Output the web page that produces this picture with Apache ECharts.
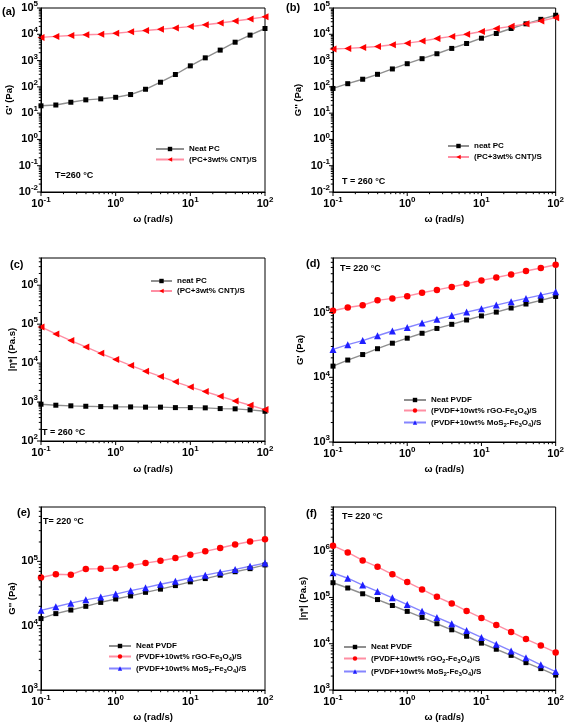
<!DOCTYPE html>
<html><head><meta charset="utf-8">
<script src="https://cdn.jsdelivr.net/npm/echarts@6/dist/echarts.min.js"></script>
<style>html,body{margin:0;padding:0;background:#fff}#c{width:567px;height:728px}</style>
</head><body><div id="c"></div>
<script>
// ---- data ----
const omega = [0.1, 0.158, 0.251, 0.398, 0.631, 1, 1.585, 2.512, 3.981, 6.31, 10, 15.85, 25.12, 39.81, 63.1, 100];
const aNeat = [19, 20.4, 26, 32, 35, 40, 51, 81, 150, 295, 630, 1270, 2500, 5000, 9300, 16600];
const aCNT = [7600, 8300, 9000, 9600, 10000, 11000, 12400, 14000, 15600, 17500, 19600, 23000, 27000, 32000, 38000, 46000];
const bNeat = [87, 132, 195, 300, 480, 760, 1180, 1820, 2900, 4470, 7100, 10700, 16600, 25000, 37000, 53000];
const bCNT = [2750, 2900, 3150, 3450, 4000, 4600, 5500, 6900, 8300, 10000, 12800, 16600, 20000, 25000, 32000, 43000];
const cNeat = [880, 830, 800, 780, 765, 750, 750, 740, 740, 720, 720, 710, 680, 670, 630, 580];
const cCNT = [85000, 56000, 38000, 26000, 17800, 12400, 8700, 6200, 4550, 3300, 2450, 1860, 1410, 1070, 830, 640];
const dNeat = [14900, 18500, 22500, 27700, 33700, 40300, 48000, 57000, 66000, 77000, 89000, 102000, 118000, 136000, 155000, 178000];
const dRGO = [107000, 120000, 130000, 155000, 166000, 180000, 203000, 225000, 250000, 280000, 315000, 350000, 390000, 440000, 490000, 550000];
const dMoS2 = [27000, 32000, 37000, 44000, 52000, 59000, 69000, 79000, 90000, 102000, 115000, 131000, 148000, 166000, 187000, 210000];
const eNeat = [12900, 15400, 17500, 20000, 23000, 26000, 29000, 33000, 37000, 42000, 48000, 54000, 61000, 69000, 77000, 88000];
const eRGO = [56000, 63000, 62000, 76000, 77000, 79000, 86000, 94000, 102000, 113000, 127000, 143000, 161000, 183000, 204000, 220000];
const eMoS2 = [17300, 19700, 22400, 25200, 27800, 31000, 35000, 39000, 44000, 49000, 55000, 61000, 68000, 75000, 84000, 94000];
const fNeat = [208000, 160000, 120000, 90000, 67000, 50000, 37000, 27000, 20000, 14500, 10300, 7600, 5600, 3900, 2900, 2100];
const fRGO = [1310000, 940000, 630000, 460000, 316000, 215000, 149000, 103000, 74000, 51000, 36000, 25500, 18000, 12600, 9100, 6500];
const fMoS2 = [340000, 260000, 185000, 135000, 98000, 70000, 50000, 37000, 27000, 19200, 13700, 9800, 7000, 5000, 3500, 2500];

// tick values
const xMajor = [0.1, 1, 10, 100];
const yMajorAB = [0.01, 0.1, 1, 10, 100, 1000, 10000, 100000];
const yMajorC = [100, 1000, 10000, 100000, 1000000];
const yMajorDE = [1000, 10000, 100000];
const yMajorF = [1000, 10000, 100000, 1000000];
const minorSteps = [2, 3, 4, 5, 6, 7, 8, 9];

// ---- styles ----
const FONT = '"Liberation Sans", Arial, sans-serif';
const STYLES = {
  black:  {symbol: 'rect', symbolSize: 5, color: '#000000', line: '#8f8f8f', rot: 0},
  redTri: {symbol: 'triangle', symbolSize: 7, color: '#ff0000', line: '#ff8ea3', rot: 90},
  redCir: {symbol: 'circle', symbolSize: 6.5, color: '#ff0000', line: '#ff8ea3', rot: 0},
  blue:   {symbol: 'triangle', symbolSize: 7, color: '#1f1fff', line: '#8585ff', rot: 0}
};

const panels = [
  {grid: {left: 41, top: 5, width: 224, height: 187}, yMin: 0.01, yMax: 1e5, yMajor: yMajorAB,
   yName: "G' (Pa)", yGap: 26, xGap: 22,
   series: [['Neat PC', aNeat, 'black'], ['(PC+3wt% CNT)/S', aCNT, 'redTri']],
   legend: {left: 155, top: 145, itemWidth: 28, gap: 2.5},
   label: ['(a)', 2, 12], note: ['T=260 °C', 55, 176]},
  {grid: {left: 333, top: 5, width: 224, height: 187}, yMin: 0.01, yMax: 1e5, yMajor: yMajorAB,
   yName: "G'' (Pa)", yGap: 30, xGap: 22,
   series: [['neat PC', bNeat, 'black'], ['(PC+3wt% CNT)/S', bCNT, 'redTri']],
   legend: {left: 447, top: 142, itemWidth: 21, gap: 3},
   label: ['(b)', 286, 8], note: ['T = 260 °C', 342, 182]},
  {grid: {left: 41, top: 258, width: 224, height: 183}, yMin: 100, yMax: 5e6, yMajor: yMajorC,
   yName: '|η*| (Pa.s)', yGap: 24, xGap: 23,
   series: [['neat PC', cNeat, 'black'], ['(PC+3wt% CNT)/S', cCNT, 'redTri']],
   legend: {left: 150, top: 277, itemWidth: 21, gap: 2},
   label: ['(c)', 10, 265], note: ['T = 260 °C', 42, 433]},
  {grid: {left: 333, top: 258, width: 224, height: 184}, yMin: 1000, yMax: 7e5, yMajor: yMajorDE,
   yName: "G' (Pa)", yGap: 28, xGap: 22,
   series: [['Neat PVDF', dNeat, 'black'], ['(PVDF+10wt% rGO-Fe3O4)/S', dRGO, 'redCir'], ['(PVDF+10wt% MoS2-Fe3O4)/S', dMoS2, 'blue']],
   legend: {left: 403, top: 396, itemWidth: 22, gap: 2.5},
   label: ['(d)', 306, 264], note: ['T= 220 °C', 340, 269]},
  {grid: {left: 41, top: 507, width: 224, height: 183}, yMin: 1000, yMax: 7e5, yMajor: yMajorDE,
   yName: "G'' (Pa)", yGap: 16, xGap: 22,
   series: [['Neat PVDF', eNeat, 'black'], ['(PVDF+10wt% rGO-Fe3O4)/S', eRGO, 'redCir'], ['(PVDF+10wt% MoS2-Fe3O4)/S', eMoS2, 'blue']],
   legend: {left: 108, top: 642, itemWidth: 22, gap: 2.5},
   label: ['(e)', 17, 513], note: ['T= 220 °C', 43, 522]},
  {grid: {left: 333, top: 507, width: 224, height: 183}, yMin: 1000, yMax: 9e6, yMajor: yMajorF,
   yName: '|η*| (Pa.s)', yGap: 25, xGap: 22,
   series: [['Neat PVDF', fNeat, 'black'], ['(PVDF+10wt% rGO2-Fe3O4)/S', fRGO, 'redCir'], ['(PVDF+10wt% MoS2-Fe3O4)/S', fMoS2, 'blue']],
   legend: {left: 343, top: 643, itemWidth: 22, gap: 3.5},
   label: ['(f)', 306, 514], note: ['T= 220 °C', 342, 517]}
];

function logLabel(v) {
  const e = Math.log10(v);
  const r = Math.round(e);
  if (Math.abs(e - r) > 1e-6) return '';
  return '{a|10}{e|' + r + '}';
}
const labelRich = {
  a: {fontSize: 11, fontWeight: 'bold', fontFamily: FONT, color: '#000', lineHeight: 16},
  e: {fontSize: 8, fontWeight: 'bold', fontFamily: FONT, color: '#000', lineHeight: 9, verticalAlign: 'top'}
};
function richName(n) {
  let out = '', buf = '';
  for (let i = 0; i < n.length; i++) {
    const ch = n[i];
    if (/\d/.test(ch) && i > 0 && /[A-Za-z]/.test(n[i - 1])) {
      if (buf) { out += '{t|' + buf + '}'; buf = ''; }
      out += '{s|' + ch + '}';
    } else buf += ch;
  }
  if (buf) out += '{t|' + buf + '}';
  return out;
}
function minorsFor(majors, max) {
  const out = [];
  majors.forEach(d => minorSteps.forEach(s => { const v = d * s; if (v < max * 1.0001) out.push(v); }));
  return out;
}

const option = {animation: false, backgroundColor: '#fff', grid: [], xAxis: [], yAxis: [], series: [], legend: [], graphic: []};

panels.forEach((p, k) => {
  option.grid.push(Object.assign({show: true, borderColor: '#000', borderWidth: 1, backgroundColor: 'transparent'}, p.grid));
  option.xAxis.push({
    type: 'log', gridIndex: k, min: 0.1, max: 100, logBase: 10,
    axisLine: {show: true, lineStyle: {color: '#000', width: 1}},
    axisTick: {show: false}, minorTick: {show: false}, splitLine: {show: false},
    axisLabel: {formatter: logLabel, rich: labelRich, margin: 4, color: '#000', hideOverlap: false},
    name: 'ω (rad/s)', nameLocation: 'middle', nameGap: p.xGap,
    nameTextStyle: {fontSize: 9.5, fontWeight: 'bold', fontFamily: FONT, color: '#000'}
  });
  option.yAxis.push({
    type: 'log', gridIndex: k, min: p.yMin, max: p.yMax, logBase: 10,
    axisLine: {show: true, lineStyle: {color: '#000', width: 1}},
    axisTick: {show: false}, minorTick: {show: false}, splitLine: {show: false},
    axisLabel: {formatter: logLabel, rich: labelRich, margin: 3, color: '#000', hideOverlap: false},
    name: p.yName, nameLocation: 'middle', nameGap: p.yGap, nameRotate: 90,
    nameTextStyle: {fontSize: 9.5, fontWeight: 'bold', fontFamily: FONT, color: '#000'}
  });
  // data series
  p.series.forEach(([name, vals, st]) => {
    const S = STYLES[st];
    option.series.push({
      type: 'line', name: name, xAxisIndex: k, yAxisIndex: k,
      data: omega.map((w, i) => [w, vals[i]]),
      symbol: S.symbol, symbolSize: S.symbolSize, symbolRotate: S.rot, showSymbol: true, clip: false,
      itemStyle: {color: S.color}, lineStyle: {color: S.line, width: 1.4},
      emphasis: {disabled: true}, z: 3
    });
  });
  // ticks (major + minor) through axis scales
  const tickData = [];
  xMajor.forEach(v => tickData.push([v, p.yMin, 0, 4]));
  minorsFor(xMajor.slice(0, 3), 100).forEach(v => tickData.push([v, p.yMin, 0, 2.2]));
  p.yMajor.forEach(v => tickData.push([0.1, v, 1, 4]));
  minorsFor(p.yMajor, p.yMax).forEach(v => tickData.push([0.1, v, 1, 2.2]));
  option.series.push({
    type: 'custom', xAxisIndex: k, yAxisIndex: k, silent: true, clip: false, z: 4,
    data: tickData,
    renderItem: function (params, api) {
      const pt = api.coord([api.value(0), api.value(1)]);
      const isY = api.value(2) === 1, L = api.value(3);
      return {type: 'line',
        shape: isY ? {x1: pt[0], y1: pt[1], x2: pt[0] - L, y2: pt[1]} : {x1: pt[0], y1: pt[1], x2: pt[0], y2: pt[1] + L},
        style: {stroke: '#000', lineWidth: 1}};
    }
  });
  option.legend.push({
    orient: 'vertical', left: p.legend.left, top: p.legend.top,
    itemWidth: p.legend.itemWidth, itemHeight: 5.5, itemGap: p.legend.gap,
    selectedMode: false, padding: 0,
    data: p.series.map(s => s[0]),
    formatter: richName,
    textStyle: {rich: {
      t: {fontSize: 8, fontWeight: 'bold', fontFamily: FONT, color: '#000', lineHeight: 11},
      s: {fontSize: 5.5, fontWeight: 'bold', fontFamily: FONT, color: '#000', lineHeight: 6, verticalAlign: 'bottom'}
    }}
  });
  option.graphic.push({type: 'text', x: p.label[1], y: p.label[2], silent: true,
    style: {text: p.label[0], font: 'bold 11px ' + FONT, fill: '#000', verticalAlign: 'middle'}});
  option.graphic.push({type: 'text', x: p.note[1], y: p.note[2], silent: true,
    style: {text: p.note[0], font: 'bold 9px ' + FONT, fill: '#000', verticalAlign: 'middle'}});
});

const chart = echarts.init(document.getElementById('c'), null, {renderer: 'canvas'});
chart.setOption(option);
</script>
</body></html>
